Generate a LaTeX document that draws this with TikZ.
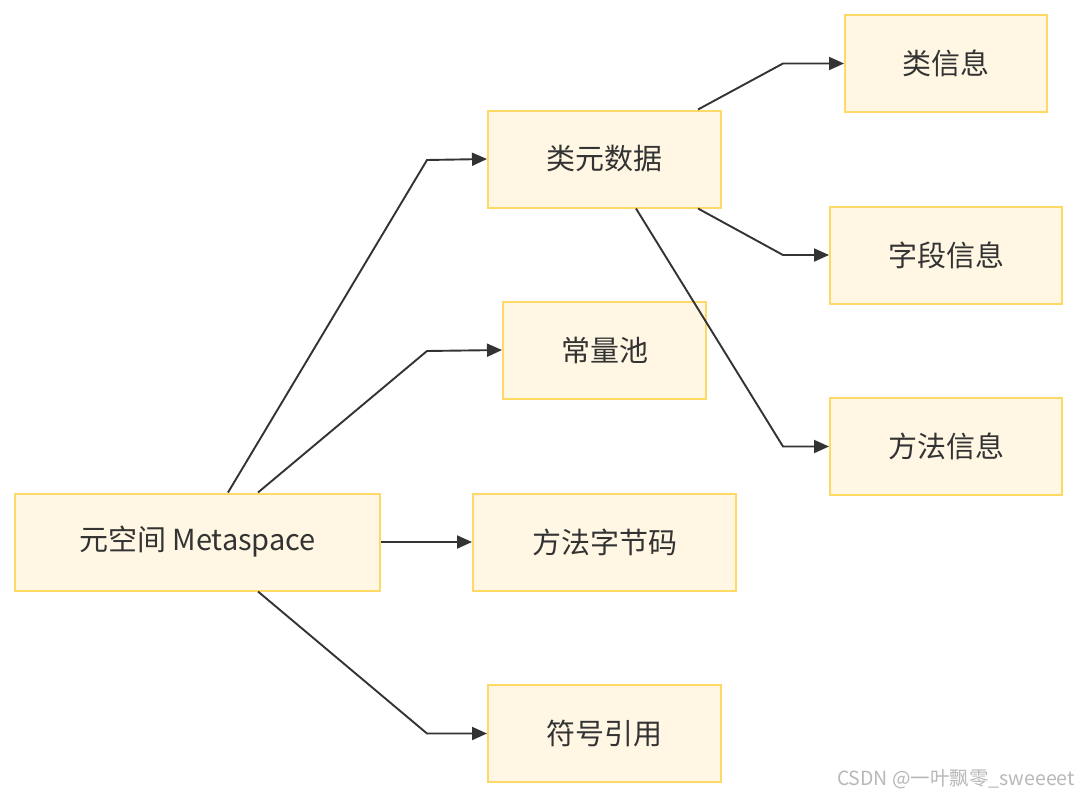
\documentclass[tikz,border=0pt]{standalone}
\usepackage{fontspec}
\setmainfont{Noto Sans CJK SC}
\usetikzlibrary{arrows.meta,positioning}
\definecolor{boxfill}{HTML}{FFF7E4}
\definecolor{boxline}{HTML}{FFD966}
\definecolor{ink}{HTML}{333333}
\tikzset{
      areabox/.style={
        draw=boxline,
        line width=2pt,
        fill=boxfill,
        text=ink,
        minimum height=97pt,
        inner sep=0pt,
        font=\fontsize{29pt}{34pt}\selectfont
      },
      link/.style={
        draw=ink,
        line width=1.9pt,
        -{Triangle[length=15pt,width=13pt]}
      }
    }

\begin{document}
\begin{tikzpicture}[x=1pt,y=-1pt]
    \useasboundingbox[fill=white] (0,0) rectangle (1080,798);
    \node[areabox, minimum width=365pt] (meta) at (197.5,542) {元空间 Metaspace};
    \node[areabox, minimum width=233pt] (klass) at (604.5,159) {类元数据};
    \node[areabox, minimum width=203pt] (pool) at (604.5,350) {常量池};
    \node[areabox, minimum width=263pt] (code) at (604.5,542) {方法字节码};
    \node[areabox, minimum width=233pt] (symref) at (604.5,733.5) {符号引用};
    \node[areabox, minimum width=202pt] (cinfo) at (946,63.5) {类信息};
    \node[areabox, minimum width=232pt] (finfo) at (946,255) {字段信息};
    \node[areabox, minimum width=232pt] (minfo) at (946,446.5) {方法信息};
    \draw[link] ([xshift=30.5pt]meta.north) -- (427,160) -- (klass.west);
    \draw[link] ([xshift=60.5pt]meta.north) -- (427,351) -- (pool.west);
    \draw[link] (meta.east) -- (code.west);
    \draw[link] ([xshift=60.5pt]meta.south) -- (427,733.5) -- (symref.west);
    \draw[link] ([xshift=93.5pt]klass.north) -- (783,63.5) -- (cinfo.west);
    \draw[link] ([xshift=93.5pt]klass.south) -- (783,255) -- (finfo.west);
    \draw[link] ([xshift=31.5pt]klass.south) -- (783,446.5) -- (minfo.west);
    \node[anchor=east, text=black!28, inner sep=0pt, font=\fontsize{19.5pt}{23pt}\selectfont] (mark) at (1075,779) {CSDN @一叶飘零\_sweeeet};
    \end{tikzpicture}
\end{document}
